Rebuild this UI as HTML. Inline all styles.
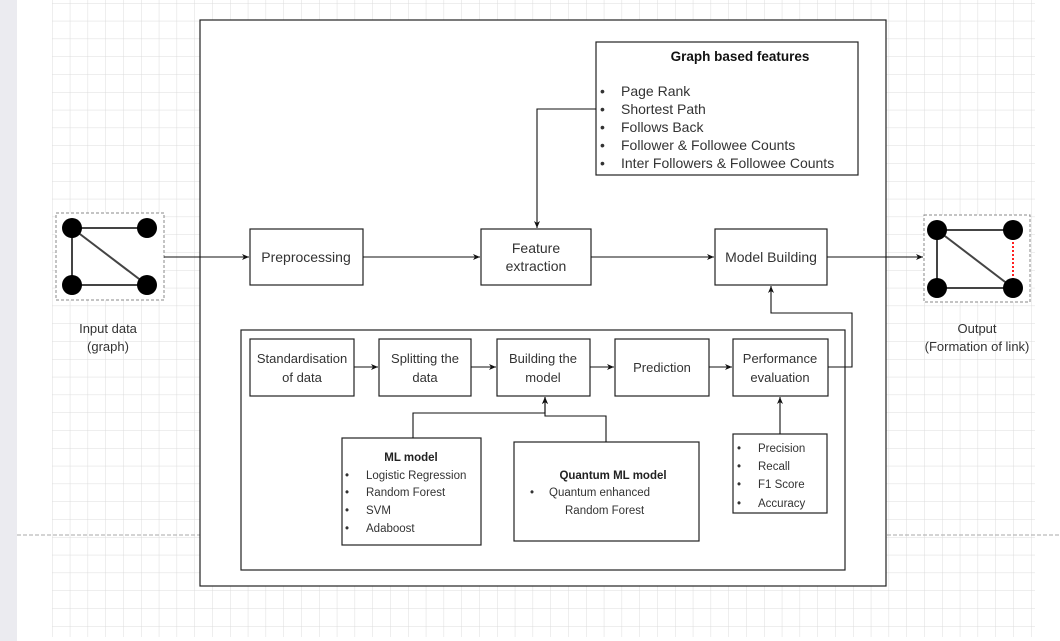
<!DOCTYPE html>
<html><head><meta charset="utf-8"><style>
html,body{margin:0;padding:0;background:#fff;}
svg{display:block;font-family:"Liberation Sans",Arial,sans-serif;}
</style></head><body>
<svg width="1060" height="641" viewBox="0 0 1060 641" xmlns="http://www.w3.org/2000/svg">
<defs>
<pattern id="g" x="52" y="3" width="17.8" height="17.8" patternUnits="userSpaceOnUse">
<path d="M0 0H17.8M0 0V17.8" stroke="#dcdcdc" stroke-width="1" fill="none"/>
</pattern>
<marker id="a" markerWidth="8" markerHeight="8" refX="7" refY="4" orient="auto" markerUnits="userSpaceOnUse">
<path d="M0,1 L7,4 L0,7 L2,4 Z" fill="#111"/>
</marker>
</defs>
<rect x="0" y="0" width="17" height="641" fill="#ebebf0"/>
<rect x="52" y="0" width="983" height="637" fill="url(#g)"/>
<line x1="17" y1="535" x2="1060" y2="535" stroke="#aaa" stroke-dasharray="4,2"/>

<g stroke="#222" fill="#fff" stroke-width="1.2">
<rect x="200" y="20" width="686" height="566"/>
<rect x="596" y="42" width="262" height="133"/>
<rect x="250" y="229" width="113" height="56"/>
<rect x="481" y="229" width="110" height="56"/>
<rect x="715" y="229" width="112" height="56"/>
<rect x="241" y="330" width="604" height="240"/>
<rect x="250" y="339" width="104" height="57"/>
<rect x="379" y="339" width="92" height="57"/>
<rect x="497" y="339" width="93" height="57"/>
<rect x="615" y="339" width="94" height="57"/>
<rect x="733" y="339" width="95" height="57"/>
<rect x="342" y="438" width="139" height="107"/>
<rect x="514" y="442" width="185" height="99"/>
<rect x="733" y="434" width="94" height="79"/>
</g>
<g stroke="#888" fill="#fff" stroke-dasharray="3,2" stroke-width="1">
<rect x="56" y="213" width="108" height="87"/>
<rect x="924" y="215" width="106" height="87"/>
</g>
<g stroke="#444" stroke-width="2">
<line x1="72" y1="228" x2="147" y2="228"/><line x1="72" y1="228" x2="72" y2="285"/>
<line x1="72" y1="285" x2="147" y2="285"/><line x1="72" y1="228" x2="147" y2="285"/>
<line x1="937" y1="230" x2="1013" y2="230"/><line x1="937" y1="230" x2="937" y2="288"/>
<line x1="937" y1="288" x2="1013" y2="288"/><line x1="937" y1="230" x2="1013" y2="288"/>
</g>
<line x1="1013" y1="230" x2="1013" y2="288" stroke="#ff2020" stroke-width="2" stroke-dasharray="2,2"/>
<g fill="#000">
<circle cx="72" cy="228" r="10"/><circle cx="147" cy="228" r="10"/><circle cx="72" cy="285" r="10"/><circle cx="147" cy="285" r="10"/>
<circle cx="937" cy="230" r="10"/><circle cx="1013" cy="230" r="10"/><circle cx="937" cy="288" r="10"/><circle cx="1013" cy="288" r="10"/>
</g>

<g stroke="#111" stroke-width="1.1" fill="none" marker-end="url(#a)">
<line x1="164" y1="257" x2="249" y2="257"/>
<line x1="363" y1="257" x2="480" y2="257"/>
<line x1="591" y1="257" x2="714" y2="257"/>
<line x1="827" y1="257" x2="923" y2="257"/>
<polyline points="596,109 537,109 537,228"/>
<line x1="354" y1="367" x2="378" y2="367"/>
<line x1="471" y1="367" x2="496" y2="367"/>
<line x1="590" y1="367" x2="614" y2="367"/>
<line x1="709" y1="367" x2="732" y2="367"/>
<polyline points="828,367 852,367 852,313 771,313 771,286"/>
<polyline points="413,438 413,413 545,413 545,397"/>
<polyline points="606,442 606,416 545,416 545,397"/>
<line x1="780" y1="434" x2="780" y2="397"/>
</g>

<g fill="#333" font-size="14" text-anchor="middle">
<text x="306" y="262">Preprocessing</text>
<text x="536" y="253">Feature</text><text x="536" y="271">extraction</text>
<text x="771" y="262">Model Building</text>
<text x="108" y="333" font-size="13">Input data</text><text x="108" y="351" font-size="13">(graph)</text>
<text x="977" y="333" font-size="13">Output</text><text x="977" y="351" font-size="13">(Formation of link)</text>
<text x="740" y="61" font-weight="bold" fill="#111" font-size="13.5">Graph based features</text>
</g>
<g fill="#333" font-size="13" text-anchor="middle">
<text x="302" y="363">Standardisation</text><text x="302" y="382">of data</text>
<text x="425" y="363">Splitting the</text><text x="425" y="382">data</text>
<text x="543" y="363">Building the</text><text x="543" y="382">model</text>
<text x="662" y="372">Prediction</text>
<text x="780" y="363">Performance</text><text x="780" y="382">evaluation</text>
</g>
<g fill="#333" font-size="14">
<text x="600" y="96">•</text><text x="621" y="96">Page Rank</text>
<text x="600" y="114">•</text><text x="621" y="114">Shortest Path</text>
<text x="600" y="132">•</text><text x="621" y="132">Follows Back</text>
<text x="600" y="150">•</text><text x="621" y="150">Follower &amp; Followee Counts</text>
<text x="600" y="168">•</text><text x="621" y="168">Inter Followers &amp; Followee Counts</text>
</g>
<g fill="#333" font-size="11.5">
<text x="411" y="461" text-anchor="middle" font-weight="bold" fill="#222">ML model</text>
<text x="345" y="479">•</text><text x="366" y="479">Logistic Regression</text>
<text x="345" y="496">•</text><text x="366" y="496">Random Forest</text>
<text x="345" y="514">•</text><text x="366" y="514">SVM</text>
<text x="345" y="532">•</text><text x="366" y="532">Adaboost</text>
<text x="613" y="479" text-anchor="middle" font-weight="bold" fill="#222">Quantum ML model</text>
<text x="530" y="496">•</text><text x="549" y="496">Quantum enhanced</text>
<text x="565" y="514">Random Forest</text>
<text x="737" y="452">•</text><text x="758" y="452">Precision</text>
<text x="737" y="470">•</text><text x="758" y="470">Recall</text>
<text x="737" y="488">•</text><text x="758" y="488">F1 Score</text>
<text x="737" y="507">•</text><text x="758" y="507">Accuracy</text>
</g>
</svg>
</body></html>
